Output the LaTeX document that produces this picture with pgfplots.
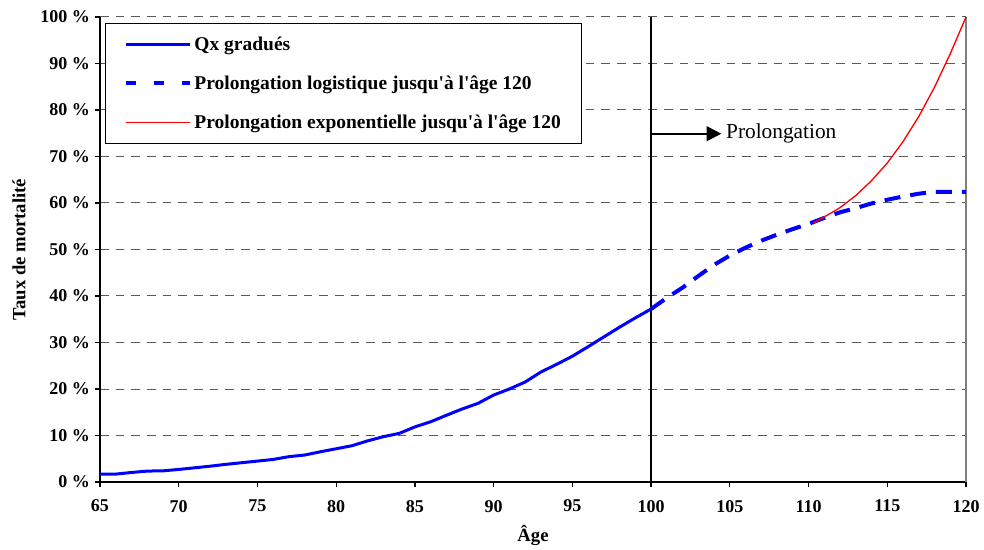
\documentclass[border=0pt]{standalone}
\usepackage{fontspec}
\setmainfont{Liberation Serif}
\usepackage{pgfplots}
\pgfplotsset{compat=1.18}
\usetikzlibrary{arrows.meta}

\begin{document}
\begin{tikzpicture}
\begin{axis}[
  name=ax,
  scale only axis,
  width=649.5pt, height=348.75pt,
  xmin=65, xmax=120, ymin=0, ymax=100,
  axis x line*=bottom, axis y line*=left,
  axis line style={black, line width=1.2pt, -},
  tick align=outside,
  major tick length=4pt,
  major tick style={black, line width=1pt},
  xtick={65,70,...,120},
  xticklabels={65,70,75,80,85,90,95,100,105,110,115,120},
  ytick={0,10,...,100},
  yticklabels={0 \%,10 \%,20 \%,30 \%,40 \%,50 \%,60 \%,70 \%,80 \%,90 \%,100 \%},
  ticklabel style={font=\fontsize{13.5}{16}\selectfont\bfseries},
  xticklabel style={yshift=-6pt},
  ymajorgrids,
  major grid style={black!65, line width=0.75pt, dash pattern=on 6.5pt off 5.25pt},
  xlabel={Âge},
  ylabel={Taux de mortalité},
  xlabel style={at={(axis description cs:0.5,-0.1269)}, anchor=base, font=\fontsize{14}{16}\selectfont\bfseries},
  ylabel style={at={(axis description cs:-0.0935,0.5)}, anchor=center, font=\fontsize{14}{16}\selectfont\bfseries},
  legend style={
    at={(axis description cs:0,1)}, anchor=north west,
    xshift=3.75pt, yshift=-4.3pt,
    draw=black, line width=0.75pt, fill=white,
    font=\fontsize{14.6}{17.5}\selectfont\bfseries,
    inner xsep=13.75pt, inner ysep=8pt,
    row sep=13.5pt,
    nodes={inner sep=2pt, text depth=0.15em},
  },
  legend cell align=left,
  legend image code/.code={\draw[#1] (0pt,0pt) -- (48pt,0pt);},
  clip=false,
]
% vertical marker line at 100
\addplot[black, line width=1.5pt, forget plot] coordinates {(100,0) (100,100)};
% arrow
\addplot[black, line width=1.5pt, -{Triangle[length=11pt,width=11pt]}, forget plot]
  coordinates {(100,74.9) (104.46,74.9)};
\node[anchor=west, font=\fontsize{16}{19}\selectfont, inner sep=0pt] at (axis cs:104.75,74.9) {Prolongation};
% right border
\draw[black!50, line width=1.1pt] (rel axis cs:1,0) -- (rel axis cs:1,1);

\addplot[blue, line width=2.25pt, line join=round] coordinates {
(65,1.72) (66,1.70) (67,2.05) (68,2.35) (69,2.40) (70,2.70) (71,3.05) (72,3.40)
(73,3.80) (74,4.15) (75,4.50) (76,4.85) (77,5.45) (78,5.80) (79,6.50) (80,7.15)
(81,7.80) (82,8.85) (83,9.75) (84,10.45) (85,11.85) (86,12.95) (87,14.35) (88,15.70)
(89,16.90) (90,18.70) (91,20.00) (92,21.50) (93,23.65) (94,25.30) (95,27.05)
(96,29.10) (97,31.20) (98,33.30) (99,35.30) (100,37.20)
};
\addlegendentry{Qx gradués}

\addplot[blue, line width=3pt, dash pattern=on 12pt off 7.5pt, line cap=butt,
  legend image post style={dash pattern=on 7.5pt off 13.5pt}] coordinates {
(100,37.20) (101,39.6) (102,41.8) (103,44.3) (104,46.7) (105,48.7) (106,50.4)
(107,51.9) (108,53.2) (109,54.4) (110,55.5) (111,56.8) (112,58.0) (113,58.9)
(114,59.9) (115,60.7) (116,61.4) (117,62.0) (118,62.4) (119,62.4) (120,62.4)
};
\addlegendentry{Prolongation logistique jusqu\textquotesingle à l\textquotesingle âge 120}

\addplot[red, line width=1pt] coordinates {
(110.3,55.7) (111,57.0) (112,59.0) (113,61.6) (114,64.8) (115,68.6) (116,73.2)
(117,78.6) (118,84.9) (119,92.1) (120,100)
};
\addlegendentry{Prolongation exponentielle jusqu\textquotesingle à l\textquotesingle âge 120}
\end{axis}
\path ([xshift=-75pt,yshift=-48.75pt]ax.south west) rectangle ([xshift=13.5pt,yshift=12.75pt]ax.north east);
\end{tikzpicture}
\end{document}
